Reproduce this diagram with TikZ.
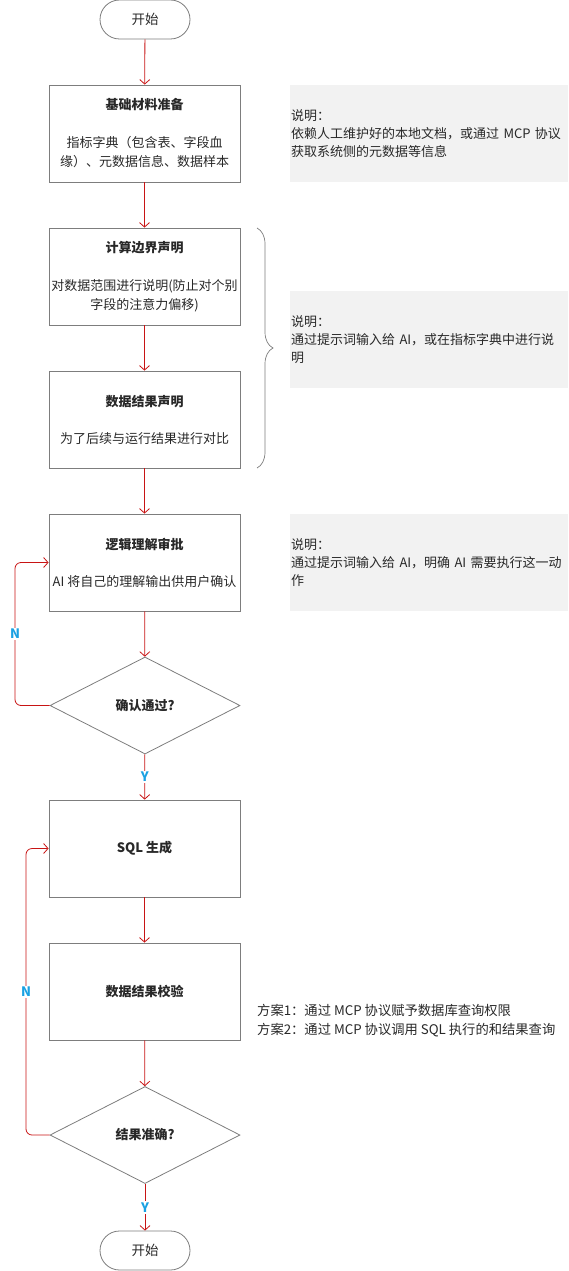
\documentclass[tikz,border=0pt]{standalone}
\usepackage{fontspec}
\setmainfont{Noto Sans CJK SC}
\usetikzlibrary{arrows.meta,decorations.pathreplacing,shapes.geometric}
\definecolor{linered}{RGB}{200,20,20}
\definecolor{boxgray}{RGB}{125,125,125}
\definecolor{notefill}{RGB}{242,242,242}
\definecolor{textdark}{RGB}{40,40,40}
\definecolor{labelblue}{RGB}{27,161,226}
\begin{document}
\begin{tikzpicture}[x=1pt,y=-1pt,
  every node/.style={text=textdark},
  procbox/.style={draw=boxgray, line width=0.8pt, minimum width=191pt, minimum height=97pt,
    align=center, inner sep=0pt, font=\fontsize{13}{19}\selectfont},
  term/.style={draw=boxgray, line width=0.8pt, rounded corners=19.5pt, minimum width=90pt,
    minimum height=39pt, inner sep=0pt, font=\fontsize{13.5}{16}\selectfont},
  decision/.style={draw=boxgray, line width=0.8pt, diamond, aspect=1.96, minimum width=190pt,
    minimum height=97pt, inner sep=0pt, font=\fontsize{13}{16}\selectfont\bfseries},
  notebox/.style={fill=notefill, minimum width=278pt, minimum height=97pt, text width=276pt,
    inner xsep=1pt, inner ysep=0pt, align=left, anchor=west, font=\fontsize{13}{18}\selectfont},
  flow/.style={draw=linered, line width=0.8pt, -{Straight Barb[length=4.5pt,width=10pt]}},
  yn/.style={fill=white, text=labelblue, inner sep=1.5pt, font=\fontsize{13}{14}\selectfont\bfseries}
]
\useasboundingbox (0,0) rectangle (568,1271);

\node[term] (start) at (145,19.5) {开始};
\node[procbox] (b1) at (144.5,133.5) {\textbf{基础材料准备}\\[19pt]指标字典（包含表、字段血\\缘）、元数据信息、数据样本};
\node[notebox] (n1) at (290,133.5) {说明：\\依赖人工维护好的本地文档，或通过 MCP 协议\\获取系统侧的元数据等信息};
\node[procbox] (b2) at (144.5,276.5) {\textbf{计算边界声明}\\[19pt]对数据范围进行说明(防止对个别\\字段的注意力偏移)};
\node[procbox] (b3) at (144.5,419.5) {\textbf{数据结果声明}\\[18pt]为了后续与运行结果进行对比};
\node[notebox] (n2) at (290,339.5) {说明：\\通过提示词输入给 AI，或在指标字典中进行说\\明};
\node[procbox] (b4) at (144.5,562.5) {\textbf{逻辑理解审批}\\[18pt]AI 将自己的理解输出供用户确认};
\node[notebox] (n3) at (290,562.5) {说明：\\通过提示词输入给 AI，明确 AI 需要执行这一动\\作};
\node[decision] (d1) at (145,705.5) {确认通过?};
\node[procbox] (b5) at (144.5,848.5) {\textbf{SQL 生成}};
\node[procbox] (b6) at (144.5,991.5) {\textbf{数据结果校验}};
\node[anchor=west, align=left, inner sep=0pt, font=\fontsize{13.3}{19}\selectfont] (n4) at (257,1020.5)
  {方案1：通过 MCP 协议赋予数据库查询权限\\方案2：通过 MCP 协议调用 SQL 执行的和结果查询};
\node[decision] (d2) at (145,1135) {结果准确?};
\node[term] (stop) at (145,1250.5) {开始};

\draw[decorate, decoration={brace, amplitude=16pt, aspect=0.5}, draw=boxgray, line width=0.7pt]
  (257,228) -- (257,468);

\draw[flow] (start) -- (b1);
\draw[flow] (b1) -- (b2);
\draw[flow] (b2) -- (b3);
\draw[flow] (b3) -- (b4);
\draw[flow] (b4) -- (d1);
\draw[flow] (d1) -- node[yn] (y1) {Y} (b5);
\coordinate (c1) at (15,634);
\draw[flow, rounded corners=6pt] (d1.west) -| (c1) |- (b4.west);
\node[yn] (nl1) at (c1) {N};
\draw[flow] (b5) -- (b6);
\draw[flow] (b6) -- (d2);
\draw[flow] (d2) -- node[yn] (y2) {Y} (stop);
\coordinate (c2) at (26,992);
\draw[flow, rounded corners=6pt] (d2.west) -| (c2) |- (b5.west);
\node[yn] (nl2) at (c2) {N};
\end{tikzpicture}
\end{document}
